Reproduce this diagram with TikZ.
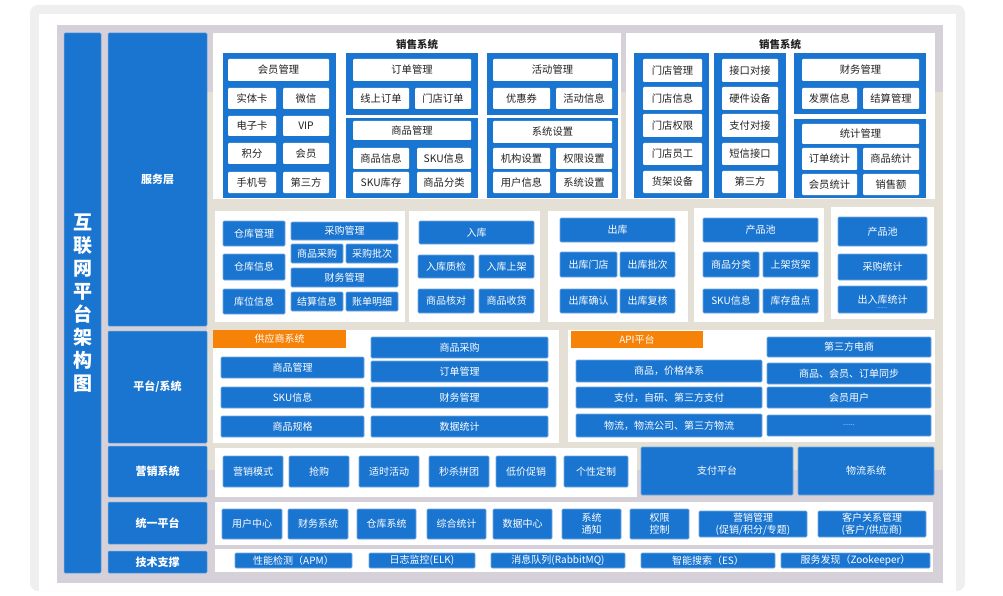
\documentclass[tikz,border=0pt]{standalone}
\usepackage{fontspec}
\setmainfont{Noto Sans CJK SC}
\usepackage{tikz}

\definecolor{archblue}{RGB}{26,117,208}
\definecolor{archedge}{RGB}{118,168,224}
\definecolor{archorange}{RGB}{246,130,8}
\definecolor{backdrop}{RGB}{214,208,216}
\definecolor{sand}{RGB}{229,224,213}
\definecolor{framegray}{RGB}{239,239,239}
\definecolor{inktext}{RGB}{34,34,34}

\begin{document}
\begin{tikzpicture}[x=1pt, y=-1pt]
	\tikzset{spot/.style n args={4}{at={({(#1+#3)/2},{(#2+#4)/2})}, minimum width={(#3-#1)*1pt}, minimum height={(#4-#2)*1pt}}}
	\tikzset{panel/.style={fill=white, inner sep=0pt}}
	\tikzset{group/.style={fill=archblue, inner sep=0pt}}
	\tikzset{tile/.style={fill=white, rounded corners=1pt, inner sep=0pt, text=inktext, align=center, font=\fontsize{10.3}{12}\selectfont}}
	\tikzset{cell/.style={fill=archblue, draw=archedge, line width=0.6pt, rounded corners=1pt, inner sep=0pt, text=white, align=center, font=\fontsize{10}{12}\selectfont}}
	\tikzset{layer/.style={fill=archblue, draw=archedge, line width=0.5pt, rounded corners=1pt, inner sep=0pt, text=white, font=\fontsize{11}{13}\selectfont\bfseries}}
	\tikzset{tab/.style={fill=archorange, inner sep=0pt, text=white, font=\fontsize{10}{12}\selectfont}}
	\tikzset{heading/.style={inner sep=0pt, text=inktext, font=\fontsize{10.5}{12}\selectfont\bfseries}}
	\useasboundingbox (0,0) rectangle (1003,596);
	%frame
	\node[fill=framegray, rounded corners=8pt, inner sep=0pt, spot={30}{5}{965}{591}] (frame) {};
	\node[fill=white, inner sep=0pt, spot={39}{14}{956}{591}] (sheet) {};
	\node[fill=backdrop, inner sep=0pt, spot={57}{25}{943}{583}] (back) {};
	\node[fill=sand, inner sep=0pt, spot={207}{92}{943}{470}] (sandback) {};
	%title and layers
	\node[layer, align=center, font=\fontsize{19}{23}\selectfont\bfseries, spot={64}{33}{101}{573}] (title) {互\\联\\网\\平\\台\\架\\构\\图};
	\node[layer, spot={108}{33}{207}{326}] (service) {服务层};
	\node[layer, spot={108}{331}{207}{443}] (platform) {平台/系统};
	\node[layer, spot={108}{446}{207}{497}] (market) {营销系统};
	\node[layer, spot={108}{502}{207}{544}] (unify) {统一平台};
	\node[layer, spot={108}{551}{207}{573}] (tech) {技术支撑};
	%service layer: sales panel 1
	\node[panel, spot={213}{33}{621}{199}] (salesA) {};
	\node[heading] (salesAt) at (417,45) {销售系统};
	\node[group, spot={223}{53}{336}{198}] (gMember) {};
	\node[group, spot={346}{53}{478}{115}] (gOrder) {};
	\node[group, spot={346}{118}{478}{198}] (gGoods) {};
	\node[group, spot={487}{53}{618}{115}] (gEvent) {};
	\node[group, spot={487}{118}{618}{198}] (gSys) {};
	\node[tile, spot={228}{59}{329}{81}] (member) {会员管理};
	\node[tile, spot={228}{88}{276}{109}] (card) {实体卡};
	\node[tile, spot={283}{88}{329}{109}] (wechat) {微信};
	\node[tile, spot={228}{116}{276}{136}] (ecard) {电子卡};
	\node[tile, spot={283}{116}{329}{136}] (vip) {VIP};
	\node[tile, spot={228}{143}{276}{164}] (points) {积分};
	\node[tile, spot={283}{143}{329}{164}] (members) {会员};
	\node[tile, spot={228}{172}{276}{193}] (phone) {手机号};
	\node[tile, spot={283}{172}{329}{193}] (third) {第三方};
	\node[tile, spot={353}{59}{471}{81}] (order) {订单管理};
	\node[tile, spot={353}{88}{409}{109}] (online) {线上订单};
	\node[tile, spot={415}{88}{471}{109}] (storeorder) {门店订单};
	\node[tile, spot={353}{121}{471}{140}] (goods) {商品管理};
	\node[tile, spot={353}{148}{409}{169}] (goodsinfo) {商品信息};
	\node[tile, spot={417}{148}{471}{169}] (skuinfo) {SKU信息};
	\node[tile, spot={353}{172}{409}{193}] (skustock) {SKU库存};
	\node[tile, spot={417}{172}{471}{193}] (goodsclass) {商品分类};
	\node[tile, spot={493}{59}{612}{81}] (event) {活动管理};
	\node[tile, spot={493}{88}{550}{109}] (coupon) {优惠券};
	\node[tile, spot={556}{88}{612}{109}] (eventinfo) {活动信息};
	\node[tile, spot={493}{121}{612}{143}] (sys) {系统设置};
	\node[tile, spot={493}{148}{550}{169}] (orgset) {机构设置};
	\node[tile, spot={556}{148}{612}{169}] (authset) {权限设置};
	\node[tile, spot={493}{172}{550}{193}] (userinfo) {用户信息};
	\node[tile, spot={556}{172}{612}{193}] (sysset) {系统设置};
	%service layer: sales panel 2
	\node[panel, spot={626}{33}{935}{199}] (salesB) {};
	\node[heading] (salesBt) at (780,45) {销售系统};
	\node[group, spot={634}{53}{709}{198}] (gStore) {};
	\node[group, spot={714}{53}{786}{198}] (gPort) {};
	\node[group, spot={794}{53}{926}{114}] (gFin) {};
	\node[group, spot={794}{119}{926}{198}] (gStat) {};
	\node[tile, spot={643}{59}{702}{82}] (store) {门店管理};
	\node[tile, spot={643}{87}{702}{110}] (storeinfo) {门店信息};
	\node[tile, spot={643}{114}{702}{137}] (storeauth) {门店权限};
	\node[tile, spot={643}{143}{702}{165}] (staff) {门店员工};
	\node[tile, spot={643}{171}{702}{193}] (shelf) {货架设备};
	\node[tile, spot={722}{59}{778}{82}] (port) {接口对接};
	\node[tile, spot={722}{87}{778}{110}] (device) {硬件设备};
	\node[tile, spot={722}{114}{778}{137}] (payport) {支付对接};
	\node[tile, spot={722}{143}{778}{165}] (sms) {短信接口};
	\node[tile, spot={722}{171}{778}{193}] (thirdport) {第三方};
	\node[tile, spot={802}{59}{919}{81}] (fin) {财务管理};
	\node[tile, spot={802}{88}{857}{109}] (invoice) {发票信息};
	\node[tile, spot={863}{88}{919}{109}] (settle) {结算管理};
	\node[tile, spot={802}{124}{919}{144}] (stat) {统计管理};
	\node[tile, spot={802}{148}{857}{170}] (orderstat) {订单统计};
	\node[tile, spot={863}{148}{919}{170}] (goodsstat) {商品统计};
	\node[tile, spot={802}{174}{857}{195}] (memberstat) {会员统计};
	\node[tile, spot={863}{174}{919}{195}] (salesum) {销售额};
	%service layer: warehouse row
	\node[panel, spot={215}{211}{405}{322}] (pStock) {};
	\node[cell, spot={223}{221}{285}{246}] (stock) {仓库管理};
	\node[cell, spot={223}{254}{285}{280}] (stockinfo) {仓库信息};
	\node[cell, spot={223}{289}{285}{314}] (slot) {库位信息};
	\node[cell, spot={291}{222}{398}{240}] (buy) {采购管理};
	\node[cell, spot={291}{244}{343}{263}] (buygoods) {商品采购};
	\node[cell, spot={346}{244}{398}{263}] (batch) {采购批次};
	\node[cell, spot={291}{268}{398}{287}] (stockfin) {财务管理};
	\node[cell, spot={291}{292}{343}{311}] (settleinfo) {结算信息};
	\node[cell, spot={346}{292}{398}{311}] (bill) {账单明细};
	\node[panel, spot={409}{211}{540}{322}] (pIn) {};
	\node[cell, spot={419}{221}{534}{244}] (inbound) {入库};
	\node[cell, spot={418}{255}{474}{278}] (qc) {入库质检};
	\node[cell, spot={479}{255}{534}{278}] (onshelf) {入库上架};
	\node[cell, spot={418}{289}{474}{313}] (check) {商品核对};
	\node[cell, spot={479}{289}{534}{313}] (receive) {商品收货};
	\node[panel, spot={548}{211}{688}{322}] (pOut) {};
	\node[cell, spot={560}{218}{675}{242}] (outbound) {出库};
	\node[cell, spot={560}{252}{617}{277}] (outstore) {出库门店};
	\node[cell, spot={620}{252}{675}{277}] (outbatch) {出库批次};
	\node[cell, spot={560}{289}{617}{313}] (outconfirm) {出库确认};
	\node[cell, spot={620}{289}{675}{313}] (outreview) {出库复核};
	\node[panel, spot={694}{208}{824}{322}] (pPool) {};
	\node[cell, spot={703}{218}{818}{242}] (pool) {产品池};
	\node[cell, spot={703}{252}{759}{277}] (poolclass) {商品分类};
	\node[cell, spot={763}{252}{818}{277}] (poolshelf) {上架货架};
	\node[cell, spot={703}{289}{759}{313}] (poolsku) {SKU信息};
	\node[cell, spot={763}{289}{818}{313}] (inventory) {库存盘点};
	\node[panel, spot={831}{207}{934}{319}] (pReport) {};
	\node[cell, spot={838}{217}{927}{246}] (pool2) {产品池};
	\node[cell, spot={838}{254}{927}{280}] (buystat) {采购统计};
	\node[cell, spot={838}{286}{927}{313}] (iostat) {出入库统计};
	\node[inner sep=0pt, text=white, font=\fontsize{6}{6}\selectfont] (iodots) at (882,308.5) {......};
	%platform layer
	\node[panel, spot={213}{330}{559}{443}] (pSupply) {};
	\node[tab, spot={213}{330}{346}{348}] (supply) {供应商系统};
	\node[cell, spot={221}{357}{364}{378}] (sgoods) {商品管理};
	\node[cell, spot={221}{387}{364}{408}] (ssku) {SKU信息};
	\node[cell, spot={221}{416}{364}{437}] (sspec) {商品规格};
	\node[cell, spot={371}{337}{548}{358}] (sbuy) {商品采购};
	\node[cell, spot={371}{361}{548}{382}] (sorder) {订单管理};
	\node[cell, spot={371}{387}{548}{408}] (sfin) {财务管理};
	\node[cell, spot={371}{416}{548}{437}] (sdata) {数据统计};
	\node[panel, spot={568}{330}{935}{442}] (pApi) {};
	\node[tab, spot={571}{331}{703}{348}] (api) {API平台};
	\node[cell, spot={576}{360}{762}{382}] (price) {商品，价格体系};
	\node[cell, spot={576}{387}{762}{408}] (pay) {支付，自研、第三方支付};
	\node[cell, spot={576}{414}{762}{437}] (logis) {物流，物流公司、第三方物流};
	\node[cell, spot={767}{337}{931}{357}] (ecom) {第三方电商};
	\node[cell, spot={767}{363}{931}{384}] (sync) {商品、会员、订单同步};
	\node[cell, spot={767}{387}{931}{408}] (apiuser) {会员用户};
	\node[cell, spot={767}{415}{931}{436}] (apimore) {\fontsize{7}{8}\selectfont ......};
	%marketing layer
	\node[panel, spot={215}{448}{637}{497}] (pMarket) {};
	\node[cell, spot={223}{456}{283}{487}] (mode) {营销模式};
	\node[cell, spot={289}{456}{349}{487}] (rush) {抢购};
	\node[cell, spot={359}{456}{419}{487}] (timely) {适时活动};
	\node[cell, spot={429}{456}{489}{487}] (flash) {秒杀拼团};
	\node[cell, spot={496}{456}{556}{487}] (lowprice) {低价促销};
	\node[cell, spot={564}{456}{628}{487}] (custom) {个性定制};
	\node[cell, spot={641}{447}{793}{495}] (payplat) {支付平台};
	\node[cell, spot={798}{447}{934}{495}] (logisys) {物流系统};
	%unified platform
	\node[panel, spot={215}{502}{933}{545}] (pUnify) {};
	\node[cell, spot={222}{509}{282}{539}] (usercenter) {用户中心};
	\node[cell, spot={288}{509}{348}{539}] (finsys) {财务系统};
	\node[cell, spot={357}{509}{416}{539}] (stocksys) {仓库系统};
	\node[cell, spot={427}{509}{486}{539}] (allstat) {综合统计};
	\node[cell, spot={493}{509}{552}{539}] (datacenter) {数据中心};
	\node[cell, spot={562}{509}{621}{539}] (notice) {系统\\通知};
	\node[cell, spot={630}{509}{689}{539}] (authctl) {权限\\控制};
	\node[cell, spot={699}{511}{807}{537}] (mktmgr) {营销管理\\(促销/积分/专题)};
	\node[cell, spot={818}{511}{926}{537}] (crm) {客户关系管理\\(客户/供应商)};
	%tech support
	\node[panel, spot={215}{549}{933}{572}] (pTech) {};
	\node[cell, spot={235}{553}{352}{568}] (apm) {性能检测（APM）};
	\node[cell, spot={369}{553}{475}{568}] (elk) {日志监控(ELK)};
	\node[cell, spot={491}{553}{625}{568}] (mq) {消息队列(RabbitMQ)};
	\node[cell, spot={641}{553}{775}{568}] (es) {智能搜索（ES）};
	\node[cell, spot={781}{553}{930}{568}] (zk) {服务发现（Zookeeper）};
\end{tikzpicture}
\end{document}
